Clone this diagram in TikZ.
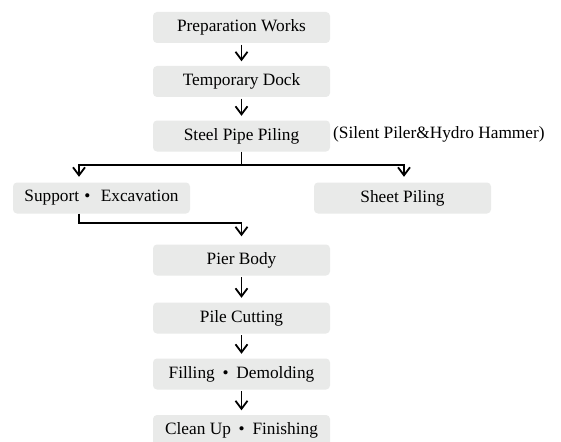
\documentclass[tikz,border=0pt]{standalone}
\usepackage{fontspec}
\setmainfont{Liberation Serif}
\usetikzlibrary{arrows.meta}
\definecolor{boxgray}{HTML}{E9EAE9}
\newcommand{\dotsep}{\hspace{0.45em}\textbullet\hspace{0.45em}}
\begin{document}
\begin{tikzpicture}[x=1pt,y=-1pt,
  stepbox/.style={fill=boxgray, rounded corners=4pt, minimum width=177pt, minimum height=31pt, inner sep=0pt, font=\fontsize{17.3}{20}\selectfont},
  conn/.style={line width=1.8pt, black},
  arr/.style={conn, -{Straight Barb[length=8pt,width=12pt,line width=1.8pt]}},
  note/.style={inner sep=0pt, anchor=west, font=\fontsize{17.3}{20}\selectfont}]
\clip (0,0) rectangle (561,441);
\fill[white] (0,0) rectangle (561,441);
\node[stepbox] (prep) at (241.5,27.5) {Preparation Works};
\node[stepbox] (temp) at (241.5,81.5) {Temporary Dock};
\node[stepbox] (steel) at (241.5,136) {Steel Pipe Piling};
\node[note] (silent) at (333,134) {(Silent Piler\&Hydro Hammer)};
\node[stepbox] (support) at (101.5,198) {Support\hspace{0.3em}\textbullet\hspace{0.6em}Excavation};
\node[stepbox] (sheet) at (402.5,198) {Sheet Piling};
\node[stepbox] (pier) at (241.5,260) {Pier Body};
\node[stepbox] (pile) at (241.5,318) {Pile Cutting};
\node[stepbox] (fill) at (241.5,374) {Filling\dotsep Demolding};
\node[stepbox] (clean) at (241.5,430.5) {Clean Up\dotsep Finishing};
\coordinate (bL) at (79,165);
\coordinate (bR) at (404,165);
\coordinate (sL) at (79,223);
\draw[arr, shorten <=1.5pt, shorten >=4.5pt] (prep) -- (temp);
\draw[arr, shorten <=1.5pt, shorten >=4.5pt] (temp) -- (steel);
\draw[conn] (steel.south) -- (steel.south |- bL);
\draw[arr, shorten >=5.5pt] (steel.south |- bL) -- (bL) -- (bL |- support.north);
\draw[arr, shorten >=5.5pt] (steel.south |- bL) -- (bR) -- (bR |- sheet.north);
\draw[arr, shorten >=8pt] (sL |- support.south) -- (sL) -- (sL -| pier.north) -- (pier.north);
\draw[arr, shorten <=1.5pt, shorten >=4.5pt] (pier) -- (pile);
\draw[arr, shorten <=1.5pt, shorten >=4.5pt] (pile) -- (fill);
\draw[arr, shorten <=1.5pt, shorten >=4.5pt] (fill) -- (clean);
\end{tikzpicture}
\end{document}
